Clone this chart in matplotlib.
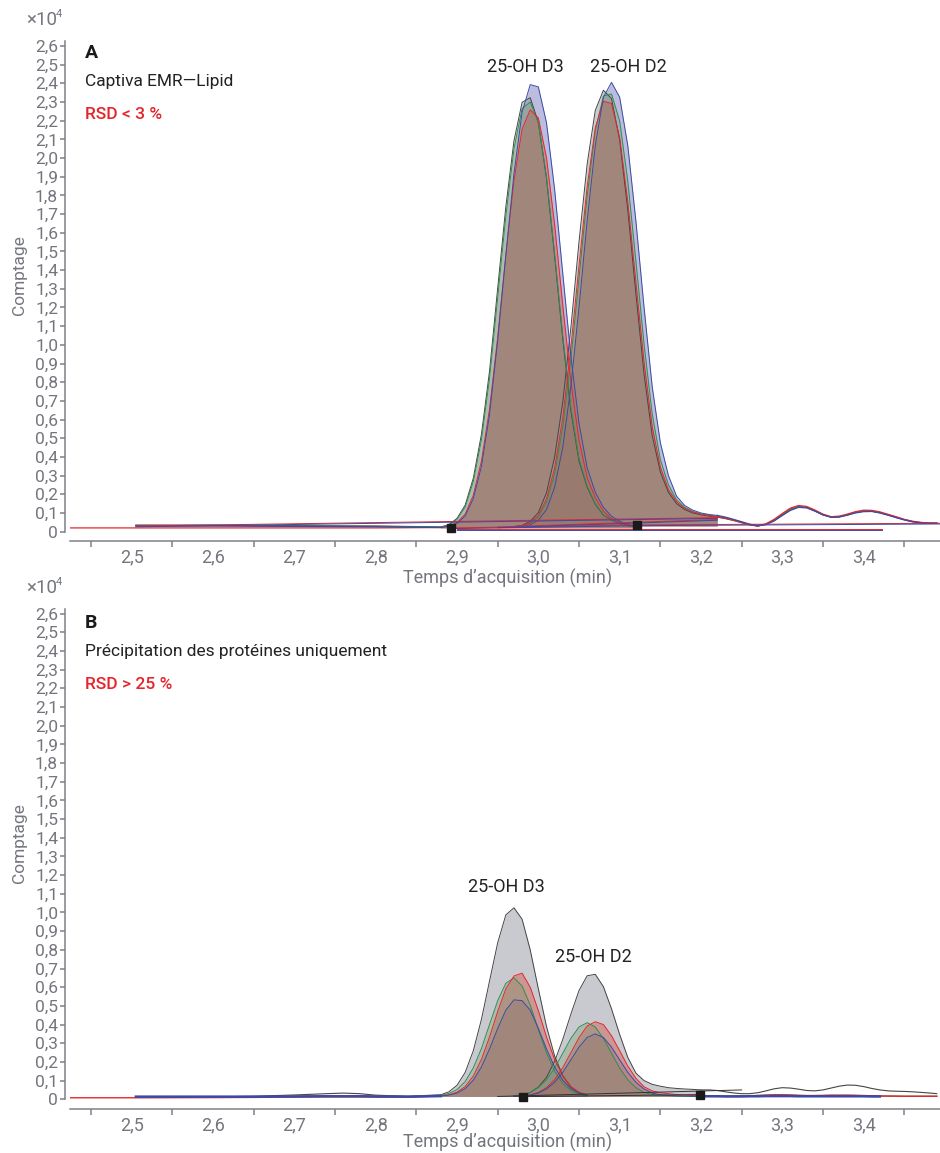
import numpy as np
from matplotlib import pyplot as plt

plt.rcParams['font.family'] = ['Roboto', 'DejaVu Sans']

nan = np.nan

# ---- panel A : Captiva EMR-Lipid (4 injections) ----
tA_d3 = [2.88, 2.89, 2.90, 2.91, 2.92, 2.93, 2.94, 2.95, 2.96, 2.97, 2.98, 2.99, 3.00,
         3.01, 3.02, 3.03, 3.04, 3.05, 3.06, 3.07, 3.08, 3.09, 3.10, 3.11, 3.12]
A_d3 = {
    'gray':  [0.025, 0.038, 0.071, 0.142, 0.286, 0.521, 0.861, 1.304, 1.739, 2.092, 2.298, 2.323, 2.191,
              1.891, 1.475, 1.032, 0.648, 0.378, 0.239, 0.147, 0.089, 0.062, 0.043, 0.032, 0.025],
    'red':   [0.022, 0.029, 0.049, 0.094, 0.195, 0.378, 0.658, 1.041, 1.48, 1.879, 2.155, 2.258, 2.215,
              2.002, 1.644, 1.214, 0.804, 0.49, 0.289, 0.181, 0.11, 0.069, 0.049, 0.036, 0.027],
    'green': [0.024, 0.035, 0.066, 0.132, 0.268, 0.492, 0.822, 1.255, 1.69, 2.05, 2.265, 2.30, 2.19,
              1.90, 1.49, 1.05, 0.665, 0.39, 0.245, 0.15, 0.091, 0.063, 0.044, 0.032, 0.025],
    'blue':  [0.022, 0.028, 0.044, 0.084, 0.177, 0.349, 0.628, 1.022, 1.477, 1.916, 2.245, 2.393, 2.381,
              2.19, 1.833, 1.384, 0.938, 0.58, 0.342, 0.211, 0.13, 0.082, 0.056, 0.039, 0.03],
}
tA_d2 = [2.96, 2.97, 2.98, 2.99, 3.00, 3.01, 3.02, 3.03, 3.04, 3.05, 3.06, 3.07, 3.08, 3.09,
         3.10, 3.11, 3.12, 3.13, 3.14, 3.15, 3.16, 3.17, 3.18, 3.19, 3.20, 3.21, 3.22]
A_d2 = {
    'gray':  [0.027, 0.027, 0.034, 0.055, 0.102, 0.208, 0.399, 0.692, 1.092, 1.551, 1.967, 2.255, 2.363,
              2.318, 2.096, 1.722, 1.272, 0.844, 0.516, 0.32, 0.21, 0.15, 0.118, 0.10, 0.09, 0.083, 0.078],
    'red':   [0.026, 0.027, 0.033, 0.048, 0.087, 0.176, 0.341, 0.609, 0.987, 1.424, 1.846, 2.162, 2.304,
              2.292, 2.109, 1.765, 1.335, 0.907, 0.563, 0.346, 0.226, 0.16, 0.125, 0.105, 0.093, 0.086, 0.08],
    'green': [0.026, 0.027, 0.032, 0.044, 0.079, 0.158, 0.309, 0.561, 0.922, 1.358, 1.796, 2.145, 2.332,
              2.343, 2.199, 1.877, 1.449, 1.004, 0.631, 0.386, 0.251, 0.17, 0.13, 0.108, 0.095, 0.088, 0.082],
    'blue':  [0.026, 0.027, 0.029, 0.037, 0.061, 0.118, 0.238, 0.451, 0.777, 1.201, 1.662, 2.067, 2.326,
              2.405, 2.326, 2.067, 1.662, 1.201, 0.777, 0.477, 0.30, 0.19, 0.14, 0.115, 0.10, 0.092, 0.087],
}
tA_head = [2.424, 2.505, 2.60, 2.70, 2.80, 2.88]
A_head = {
    'gray':  [nan, 0.035, 0.035, 0.032, 0.03, 0.025],
    'red':   [0.02, 0.02, 0.02, 0.02, 0.02, 0.022],
    'green': [nan, 0.032, 0.032, 0.03, 0.028, 0.024],
    'blue':  [nan, 0.03, 0.03, 0.028, 0.026, 0.022],
}
tA_tail = [3.22, 3.23, 3.24, 3.25, 3.26, 3.27, 3.28, 3.29, 3.30, 3.31, 3.32, 3.33, 3.34, 3.35,
           3.36, 3.37, 3.38, 3.39, 3.40, 3.41, 3.42, 3.43, 3.44, 3.45, 3.46, 3.47, 3.48, 3.49]
A_tail = {
    'gray':  [0.078, 0.07, 0.06, 0.048, 0.036, 0.03, 0.04, 0.062, 0.092, 0.12, 0.135, 0.13, 0.112, 0.09,
              0.078, 0.08, 0.09, 0.103, 0.11, 0.11, 0.102, 0.09, 0.077, 0.064, 0.054, 0.048, 0.045, 0.045],
    'red':   [0.08, 0.072, 0.062, 0.05, 0.038, 0.03, 0.042, 0.066, 0.097, 0.126, 0.14, 0.135, 0.116, 0.094,
              0.08, 0.083, 0.094, 0.107, 0.115, 0.114, 0.106, 0.093, 0.08, 0.066, 0.056, 0.05, 0.046, 0.045],
    'green': [0.082, 0.073, 0.062, 0.05, 0.038, 0.031, 0.04, 0.06, 0.09, 0.118, 0.134, 0.13, 0.112, 0.09,
              0.078, 0.08, 0.09, 0.103, 0.11, 0.11, 0.102, 0.09, 0.077, 0.064, 0.054, 0.048, 0.045, 0.045],
    'blue':  [0.087, 0.078, 0.066, 0.053, 0.04, 0.032, 0.038, 0.057, 0.086, 0.114, 0.13, 0.127, 0.11, 0.09,
              0.077, 0.078, 0.088, 0.1, 0.107, 0.108, 0.1, 0.088, 0.075, 0.063, 0.053, 0.047, 0.045, 0.045],
}
A_baselines = [((2.893, 3.121), (0.02, 0.036)), ((2.95, 3.22), (0.025, 0.065)),
               ((2.505, 3.22), (0.03, 0.075)), ((3.121, 3.494), (0.036, 0.045)),
               ((2.90, 3.423), (0.012, 0.012))]
A_marks_t = [2.893, 3.121]
A_marks_y = [0.02, 0.036]

# ---- panel B : precipitation des proteines ----
tB_d3 = [2.88, 2.89, 2.90, 2.91, 2.92, 2.93, 2.94, 2.95, 2.96, 2.97, 2.98, 2.99, 3.00,
         3.01, 3.02, 3.03, 3.04, 3.05, 3.06]
B_d3 = {
    'gray':  [0.024, 0.04, 0.075, 0.144, 0.26, 0.428, 0.634, 0.838, 0.987, 1.025, 0.964, 0.80,
              0.591, 0.39, 0.232, 0.127, 0.066, 0.035, 0.02],
    'red':   [0.018, 0.024, 0.038, 0.068, 0.124, 0.213, 0.334, 0.47, 0.592, 0.66, 0.675, 0.60,
              0.475, 0.334, 0.213, 0.124, 0.068, 0.038, 0.024],
    'green': [0.021, 0.031, 0.052, 0.095, 0.168, 0.272, 0.401, 0.528, 0.621, 0.65, 0.606, 0.504,
              0.374, 0.249, 0.15, 0.085, 0.047, 0.027, 0.018],
    'blue':  [0.017, 0.022, 0.033, 0.057, 0.102, 0.173, 0.27, 0.379, 0.477, 0.532, 0.528, 0.477,
              0.379, 0.27, 0.173, 0.102, 0.057, 0.033, 0.022],
}
tB_d2 = [2.97, 2.98, 2.99, 3.00, 3.01, 3.02, 3.03, 3.04, 3.05, 3.06, 3.07, 3.08, 3.09, 3.10,
         3.11, 3.12, 3.13, 3.14, 3.15, 3.16, 3.17, 3.18, 3.19, 3.20]
B_d2 = {
    'gray':  [0.018, 0.023, 0.036, 0.065, 0.117, 0.203, 0.32, 0.456, 0.582, 0.661, 0.669, 0.603,
              0.484, 0.347, 0.224, 0.14, 0.10, 0.08, 0.07, 0.062, 0.058, 0.055, 0.053, 0.05],
    'red':   [0.016, 0.018, 0.024, 0.037, 0.062, 0.105, 0.169, 0.249, 0.33, 0.392, 0.415, 0.40,
              0.34, 0.26, 0.178, 0.112, 0.067, 0.045, 0.035, 0.03, 0.025, 0.022, 0.02, 0.02],
    'green': [0.018, 0.024, 0.036, 0.062, 0.104, 0.167, 0.246, 0.326, 0.387, 0.41, 0.387, 0.326,
              0.246, 0.167, 0.104, 0.062, 0.036, 0.026, 0.022, 0.02, 0.018, 0.017, 0.016, 0.016],
    'blue':  [0.016, 0.018, 0.022, 0.033, 0.055, 0.091, 0.144, 0.211, 0.279, 0.331, 0.35, 0.331,
              0.279, 0.211, 0.144, 0.091, 0.055, 0.033, 0.024, 0.02, 0.018, 0.017, 0.016, 0.016],
}
tB_head = [2.424, 2.505, 2.60, 2.65, 2.70, 2.74, 2.76, 2.78, 2.80, 2.84, 2.88]
B_head = {
    'gray':  [nan, 0.012, 0.013, 0.016, 0.023, 0.03, 0.033, 0.03, 0.022, 0.016, 0.024],
    'red':   [0.008, 0.008, 0.009, 0.01, 0.012, 0.013, 0.013, 0.013, 0.012, 0.011, 0.018],
    'green': [nan, 0.012, 0.012, 0.013, 0.016, 0.018, 0.019, 0.018, 0.016, 0.014, 0.021],
    'blue':  [nan, 0.014, 0.014, 0.014, 0.015, 0.016, 0.016, 0.016, 0.015, 0.014, 0.017],
}
tB_tail = [3.20, 3.21, 3.22, 3.23, 3.24, 3.25, 3.26, 3.27, 3.28, 3.29, 3.30, 3.31, 3.32, 3.33, 3.34,
           3.35, 3.36, 3.37, 3.38, 3.39, 3.40, 3.41, 3.42, 3.43, 3.44, 3.45, 3.46, 3.47, 3.48, 3.49]
B_tail = {
    'gray':  [0.05, 0.05, 0.047, 0.04, 0.034, 0.03, 0.03, 0.035, 0.045, 0.056, 0.062, 0.06, 0.054, 0.047,
              0.045, 0.05, 0.06, 0.07, 0.076, 0.075, 0.068, 0.058, 0.05, 0.045, 0.043, 0.042, 0.04, 0.037,
              0.034, 0.03],
    'red':   [0.02, 0.019, 0.018, 0.017, 0.017, 0.017, 0.018, 0.02, 0.022, 0.024, 0.024, 0.023, 0.021, 0.02,
              0.02, 0.021, 0.022, 0.022, 0.022, 0.021, 0.02, 0.019, 0.018, 0.017, 0.017, 0.016, 0.016, 0.016,
              0.016, 0.016],
    'green': [0.016, 0.016, 0.016, 0.016, 0.017, 0.018, 0.019, 0.02, 0.021, 0.022, 0.022, 0.021, 0.02, 0.019,
              0.019, 0.019, 0.02, 0.02, 0.02, 0.02, 0.019, 0.018, 0.017, 0.017, 0.016, 0.016, 0.016, 0.016,
              0.016, 0.016],
    'blue':  [0.016, 0.016, 0.016, 0.015, 0.015, 0.015, 0.016, 0.016, 0.017, 0.017, 0.017, 0.017, 0.016, 0.016,
              0.016, 0.016, 0.016, 0.016, 0.016, 0.016, 0.016, 0.015, 0.015, nan, nan, nan, nan, nan,
              nan, nan],
}
B_baselines = [((2.95, 3.25), (0.015, 0.05)), ((2.981, 3.199), (0.014, 0.025))]
B_marks_t = [2.981, 3.199]
B_marks_y = [0.014, 0.025]

x_ticks = [2.5, 2.6, 2.7, 2.8, 2.9, 3.0, 3.1, 3.2, 3.3, 3.4]
x_minor = [2.45, 2.55, 2.65, 2.75, 2.85, 2.95, 3.05, 3.15, 3.25, 3.35, 3.45]
y_ticks = [i / 10 for i in range(27)]

line_col = {'gray': '#454545', 'red': '#e8262c', 'green': '#2f8f4f', 'blue': '#3b4aa6'}
fill_col = {'blue': ('#7a7ac0', 0.5), 'gray': ('#9ea0a8', 0.55),
            'red': ('#d04a3c', 0.4), 'green': ('#5a8f50', 0.25)}
fill_order = ['blue', 'gray', 'red', 'green']
line_order = ['gray', 'green', 'red', 'blue']
axis_gray = '#7d8088'
text_gray = '#74767e'

W, H = 940, 1153
fig = plt.figure(figsize=(W / 100, H / 100), dpi=100)


def px(x, y):
    return x / W, 1 - y / H


def draw_panel(ax, peaks, head, tail, baselines, base_cols, mt, my, lw_base):
    for tt, data, base in peaks:
        for k in fill_order:
            c, a = fill_col[k]
            ax.fill_between(tt, base, data[k], where=np.array(data[k]) > base,
                            color=c, alpha=a, lw=0, interpolate=True)
    for k in line_order:
        ax.plot(head[0], head[1][k], color=line_col[k], lw=lw_base[k])
        ax.plot(tail[0], tail[1][k], color=line_col[k], lw=lw_base[k])
        for tt, data, base in peaks:
            ax.plot(tt, data[k], color=line_col[k], lw=0.7)
    for (xs, ys) in baselines:
        for j, c in enumerate(base_cols):
            ax.plot(xs, [v - 0.004 * j for v in ys], color=c, lw=0.7)
    ax.plot(mt, my, 's', color='#1a1a1a', ms=5.5, clip_on=False, zorder=5)

    ax.set_xlim(2.424, 3.494)
    ax.set_ylim(-0.05, 2.63)
    for s in ['top', 'right']:
        ax.spines[s].set_visible(False)
    ax.spines['left'].set_position(('outward', 3.6))
    ax.spines['left'].set_bounds(0, 2.625)
    for s in ['left', 'bottom']:
        ax.spines[s].set_color(axis_gray)
        ax.spines[s].set_linewidth(1.1)
    ax.set_xticks(x_ticks)
    ax.set_xticklabels([f'{v:.1f}'.replace('.', ',') for v in x_ticks])
    ax.set_xticks(x_minor, minor=True)
    ax.set_yticks(y_ticks)
    ax.set_yticklabels(['0'] + [f'{v:.1f}'.replace('.', ',') for v in y_ticks[1:]])
    ax.tick_params(axis='x', which='major', length=0, pad=5.5, labelsize=13, labelcolor=text_gray)
    ax.tick_params(axis='x', which='minor', length=4, width=1.1, color=axis_gray)
    ax.tick_params(axis='y', length=3.5, width=1.1, color=axis_gray, pad=1.5,
                   labelsize=12.5, labelcolor=text_gray)
    ax.set_facecolor('none')


ax_a = fig.add_axes([0.0745, 0.5308, 0.9255, 0.4342])
draw_panel(ax_a, [(tA_d3, A_d3, 0.02), (tA_d2, A_d2, 0.03)], (tA_head, A_head),
           (tA_tail, A_tail), A_baselines, ['#e8262c', '#3b4aa6'], A_marks_t, A_marks_y,
           {'gray': 0.9, 'green': 0.9, 'red': 0.9, 'blue': 0.9})
ax_a.text(2.9838, 2.461, '25-OH D3', ha='center', va='baseline', fontsize=13, color='#222222')
ax_a.text(3.1105, 2.461, '25-OH D2', ha='center', va='baseline', fontsize=13, color='#222222')

ax_b = fig.add_axes([0.0745, 0.0385, 0.9255, 0.4342])
draw_panel(ax_b, [(tB_d3, B_d3, 0.015), (tB_d2, B_d2, 0.015)], (tB_head, B_head),
           (tB_tail, B_tail), B_baselines, ['#333333'], B_marks_t, B_marks_y,
           {'gray': 0.8, 'green': 1.0, 'red': 1.0, 'blue': 1.8})
ax_b.text(2.961, 1.11, '25-OH D3', ha='center', va='baseline', fontsize=13, color='#222222')
ax_b.text(3.068, 0.736, '25-OH D2', ha='center', va='baseline', fontsize=13, color='#222222')

# panel texts
for dy, letter, title, rsd in [(0, 'A', 'Captiva EMR\u2014Lipid', 'RSD < 3 %'),
                               (570, 'B', 'Précipitation des protéines uniquement', 'RSD > 25 %')]:
    fig.text(*px(85, 58.3 + dy), letter, fontsize=14, fontweight='bold', color='#1a1a1a', va='baseline')
    fig.text(*px(85, 86 + dy), title, fontsize=12.5, color='#222222', va='baseline')
    fig.text(*px(85, 119 + dy), rsd, fontsize=12.5, fontweight='medium', color='#e5242b', va='baseline')

for y0 in [0, 568]:
    fig.text(*px(26, 25 + y0), '×10', fontsize=13.5, color=text_gray, va='baseline')
    fig.text(*px(55.5, 17 + y0), '4', fontsize=8, color=text_gray, va='baseline')

for y0, yb in [(0, 584), (567.6, 1148)]:
    fig.text(*px(19.5, 275 + y0), 'Comptage', rotation=90, fontsize=12.5, color=text_gray,
             ha='center', va='center')
    fig.text(*px(507.5, yb), 'Temps d\u2019acquisition (min)', fontsize=13, color=text_gray,
             ha='center', va='baseline')

fig.savefig('out.png', dpi=100)
